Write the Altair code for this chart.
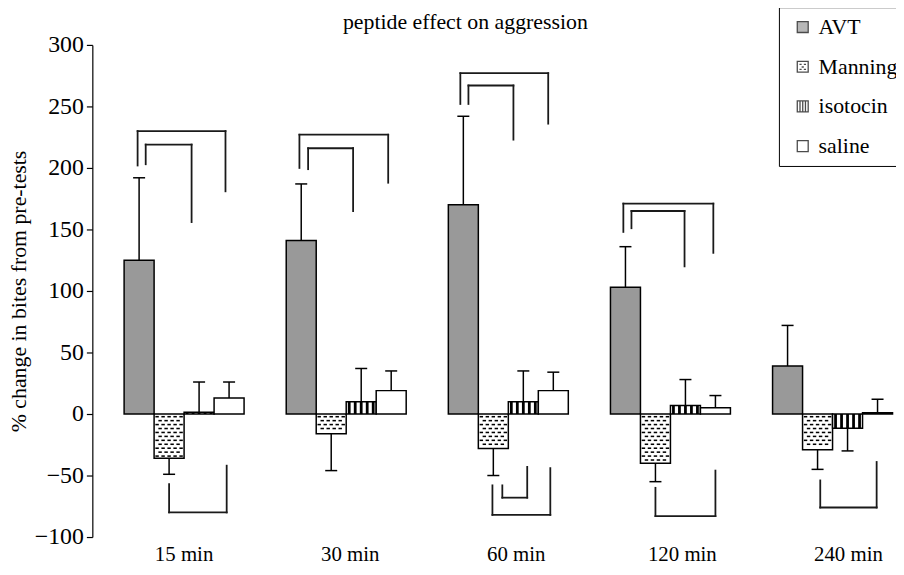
import altair as alt
import pandas as pd
import numpy as np

# ---------------- data ----------------
groups = ["15 min", "30 min", "60 min", "120 min", "240 min"]
series = ["AVT", "Manning", "isotocin", "saline"]
title_text = "peptide effect on aggression"

avt = [125, 141, 170, 103, 39]
avt_err = [192, 187, 242, 136, 72]          # tip of error bar
manning = [-36, -16, -28, -40, -29]
manning_err = [-49, -46, -50, -55, -45]
isotocin = [1.5, 10, 10, 7, -11.5]
isotocin_err = [26, 37, 35, 28, -30]
saline = [13, 19, 19, 5, 1]
saline_err = [26, 35, 34, 15, 12]

# significance brackets above bars (slot 0 = AVT ... 3 = saline)
top_groups = ["15 min", "30 min", "60 min", "120 min",
              "15 min", "30 min", "60 min", "120 min"]
top_left_slot = [-0.05, -0.06, -0.1, -0.07, 0.22, 0.23, 0.17, 0.2]
top_right_slot = [2.88, 2.9, 2.83, 2.93, 1.75, 1.73, 1.67, 1.97]
top_level = [230, 227, 277, 171, 219, 216, 267, 165]
top_left_end = [202, 200, 252, 148, 203, 199, 252, 151]
top_right_end = [181, 188, 236, 131, 156, 165, 223, 120]

# significance brackets below bars
bot_groups = ["15 min", "60 min", "60 min", "120 min", "240 min"]
bot_left_slot = [1.0, 0.97, 1.3, 1.0, 1.09]
bot_right_slot = [2.92, 2.9, 2.13, 3.0, 2.97]
bot_level = [-80, -82, -68, -83, -76]
bot_left_end = [-57, -58, -58, -60, -54]
bot_right_end = [-42, -44, -43, -46, -39]

# ---------------- layout constants ----------------
BW = 0.185           # bar width in group units
CAP = 0.037          # half width of error caps
XDOM = [-0.566, 4.373]
YDOM = [-100, 300]
FONT = "Liberation Serif"
W, H = 807, 496
LABEL_DRIFT = 0.0245

values = [avt, manning, isotocin, saline]
errs = [avt_err, manning_err, isotocin_err, saline_err]

rows = []
for i, g in enumerate(groups):
    for k, s in enumerate(series):
        left = i + (k - 2) * BW
        rows.append(dict(group=g, series=s, x=left, x2=left + BW,
                         xc=left + BW / 2, v=values[k][i], e=errs[k][i],
                         cl=left + BW / 2 - CAP, cr=left + BW / 2 + CAP))
bars = pd.DataFrame(rows)

# vertical stripes for isotocin
stripe_rows = []
for _, r in bars[bars.series == "isotocin"].iterrows():
    for f in [0.1, 0.3, 0.5, 0.7, 0.9]:
        stripe_rows.append(dict(x=r.x + f * BW, y=0, y2=r.v))
stripes = pd.DataFrame(stripe_rows)

# stipple for Manning
dot_rows = []
ystep = 3.2
for _, r in bars[bars.series == "Manning"].iterrows():
    j = 0
    y = -2.2
    while y > r.v + 1.4:
        fr = [0.1, 0.3, 0.5, 0.7, 0.9] if j % 2 == 0 else [0.2, 0.4, 0.6, 0.8]
        for f in fr:
            dot_rows.append(dict(x=r.x + f * BW, y=y))
        y -= ystep
        j += 1
dots = pd.DataFrame(dot_rows)


def slot_x(g, s):
    i = groups.index(g)
    return i + (s - 1.5) * BW


seg = []
def add_bracket(g, s1, s2, lvl, y1, y2):
    xa, xb = slot_x(g, s1), slot_x(g, s2)
    seg.append(dict(x=xa, x2=xa, y=y1, y2=lvl))
    seg.append(dict(x=xa, x2=xb, y=lvl, y2=lvl))
    seg.append(dict(x=xb, x2=xb, y=lvl, y2=y2))

for a in zip(top_groups, top_left_slot, top_right_slot, top_level, top_left_end, top_right_end):
    add_bracket(*a)
for a in zip(bot_groups, bot_left_slot, bot_right_slot, bot_level, bot_left_end, bot_right_end):
    add_bracket(*a)
brackets = pd.DataFrame(seg)

labels = pd.DataFrame(dict(group=groups, i=list(range(len(groups)))))
labels["xl"] = labels["i"] * (1 + LABEL_DRIFT)

xs = alt.Scale(domain=XDOM, nice=False, zero=False)
ys = alt.Scale(domain=YDOM, nice=False, zero=False)

fill_scale = alt.Scale(domain=series, range=["#999999", "white", "white", "white"])
shape_scale = alt.Scale(domain=series, range=[
    "M-1,-1H1V1H-1Z",
    "M-1,-1H1V1H-1Z M-0.6,-0.45H-0.2 M0.2,-0.45H0.6 M-0.2,0.05H0.2 M-0.6,0.5H-0.2 M0.2,0.5H0.6",
    "M-1,-1H1V1H-1Z M-0.5,-1V1 M0,-1V1 M0.5,-1V1",
    "M-1,-1H1V1H-1Z",
])

yaxis = alt.Axis(values=list(range(-100, 301, 50)), grid=False,
                 title="% change in bites from pre-tests",
                 titleFont=FONT, titleFontSize=22, titleFontWeight="normal",
                 titleColor="black", titlePadding=4,
                 labelFont=FONT, labelFontSize=24, labelColor="black",
                 labelPadding=3, tickSize=6, tickColor="black",
                 domainColor="black", tickWidth=1.2, domainWidth=1.2)

err_v = alt.Chart(bars).mark_rule(color="black", strokeWidth=1.5).encode(
    x=alt.X("xc:Q", scale=xs, axis=None),
    y=alt.Y("v:Q", scale=ys, axis=yaxis),
    y2="e:Q")
err_c = alt.Chart(bars).mark_rule(color="black", strokeWidth=1.5).encode(
    x=alt.X("cl:Q", scale=xs), x2="cr:Q",
    y=alt.Y("e:Q", scale=ys))

bar_layer = alt.Chart(bars).mark_rect(stroke="black", strokeWidth=1.5).encode(
    x=alt.X("x:Q", scale=xs), x2="x2:Q",
    y=alt.Y("v:Q", scale=ys), y2=alt.datum(0),
    fill=alt.Fill("series:N", scale=fill_scale, title=None, sort=series))

stripe_layer = alt.Chart(stripes).mark_rule(color="black", strokeWidth=2.8).encode(
    x=alt.X("x:Q", scale=xs), y=alt.Y("y:Q", scale=ys), y2="y2:Q")

dot_layer = alt.Chart(dots).mark_point(
    shape="M-1,-0.45H1V0.45H-1Z", filled=True, color="black", size=12, opacity=1
).encode(x=alt.X("x:Q", scale=xs), y=alt.Y("y:Q", scale=ys))

bracket_layer = alt.Chart(brackets).mark_rule(color="#1a1a1a", strokeWidth=1.8,
                                              strokeCap="square").encode(
    x=alt.X("x:Q", scale=xs), x2="x2:Q", y=alt.Y("y:Q", scale=ys), y2="y2:Q")

label_layer = alt.Chart(labels).mark_text(font=FONT, fontSize=21, color="black",
                                          baseline="middle").encode(
    x=alt.X("xl:Q", scale=xs), y=alt.value(514), text="group:N")

title_layer = alt.Chart(pd.DataFrame({"t": [title_text]})).mark_text(
    font=FONT, fontSize=22, color="black", baseline="middle", align="center"
).encode(x=alt.value(376), y=alt.value(-23), text="t:N")

legend_layer = alt.Chart(bars).transform_filter("false").mark_point(
    filled=True, stroke="black", strokeWidth=1.3, size=121).encode(
    x=alt.X("xc:Q", scale=xs), y=alt.Y("v:Q", scale=ys),
    fill=alt.Fill("series:N", scale=fill_scale, title=None, sort=series),
    shape=alt.Shape("series:N", scale=shape_scale, title=None, sort=series))

chart = alt.layer(err_v, err_c, bar_layer, stripe_layer, dot_layer,
                  bracket_layer, label_layer, title_layer, legend_layer).properties(
    width=W, height=H,
    autosize=alt.AutoSizeParams(type="none"),
    padding={"left": 85, "top": 35, "right": 3, "bottom": 28},
).configure_view(stroke=None).configure_legend(
    orient="none", legendX=692, legendY=-38, strokeColor="black",
    fillColor="white", padding=9, rowPadding=18, labelFont=FONT,
    labelFontSize=22, labelColor="black", symbolSize=121, labelOffset=5,
    symbolOffset=4, symbolStrokeColor="black", symbolStrokeWidth=1.3)

chart.save("out.html", embed_options={"renderer": "svg", "actions": False})
